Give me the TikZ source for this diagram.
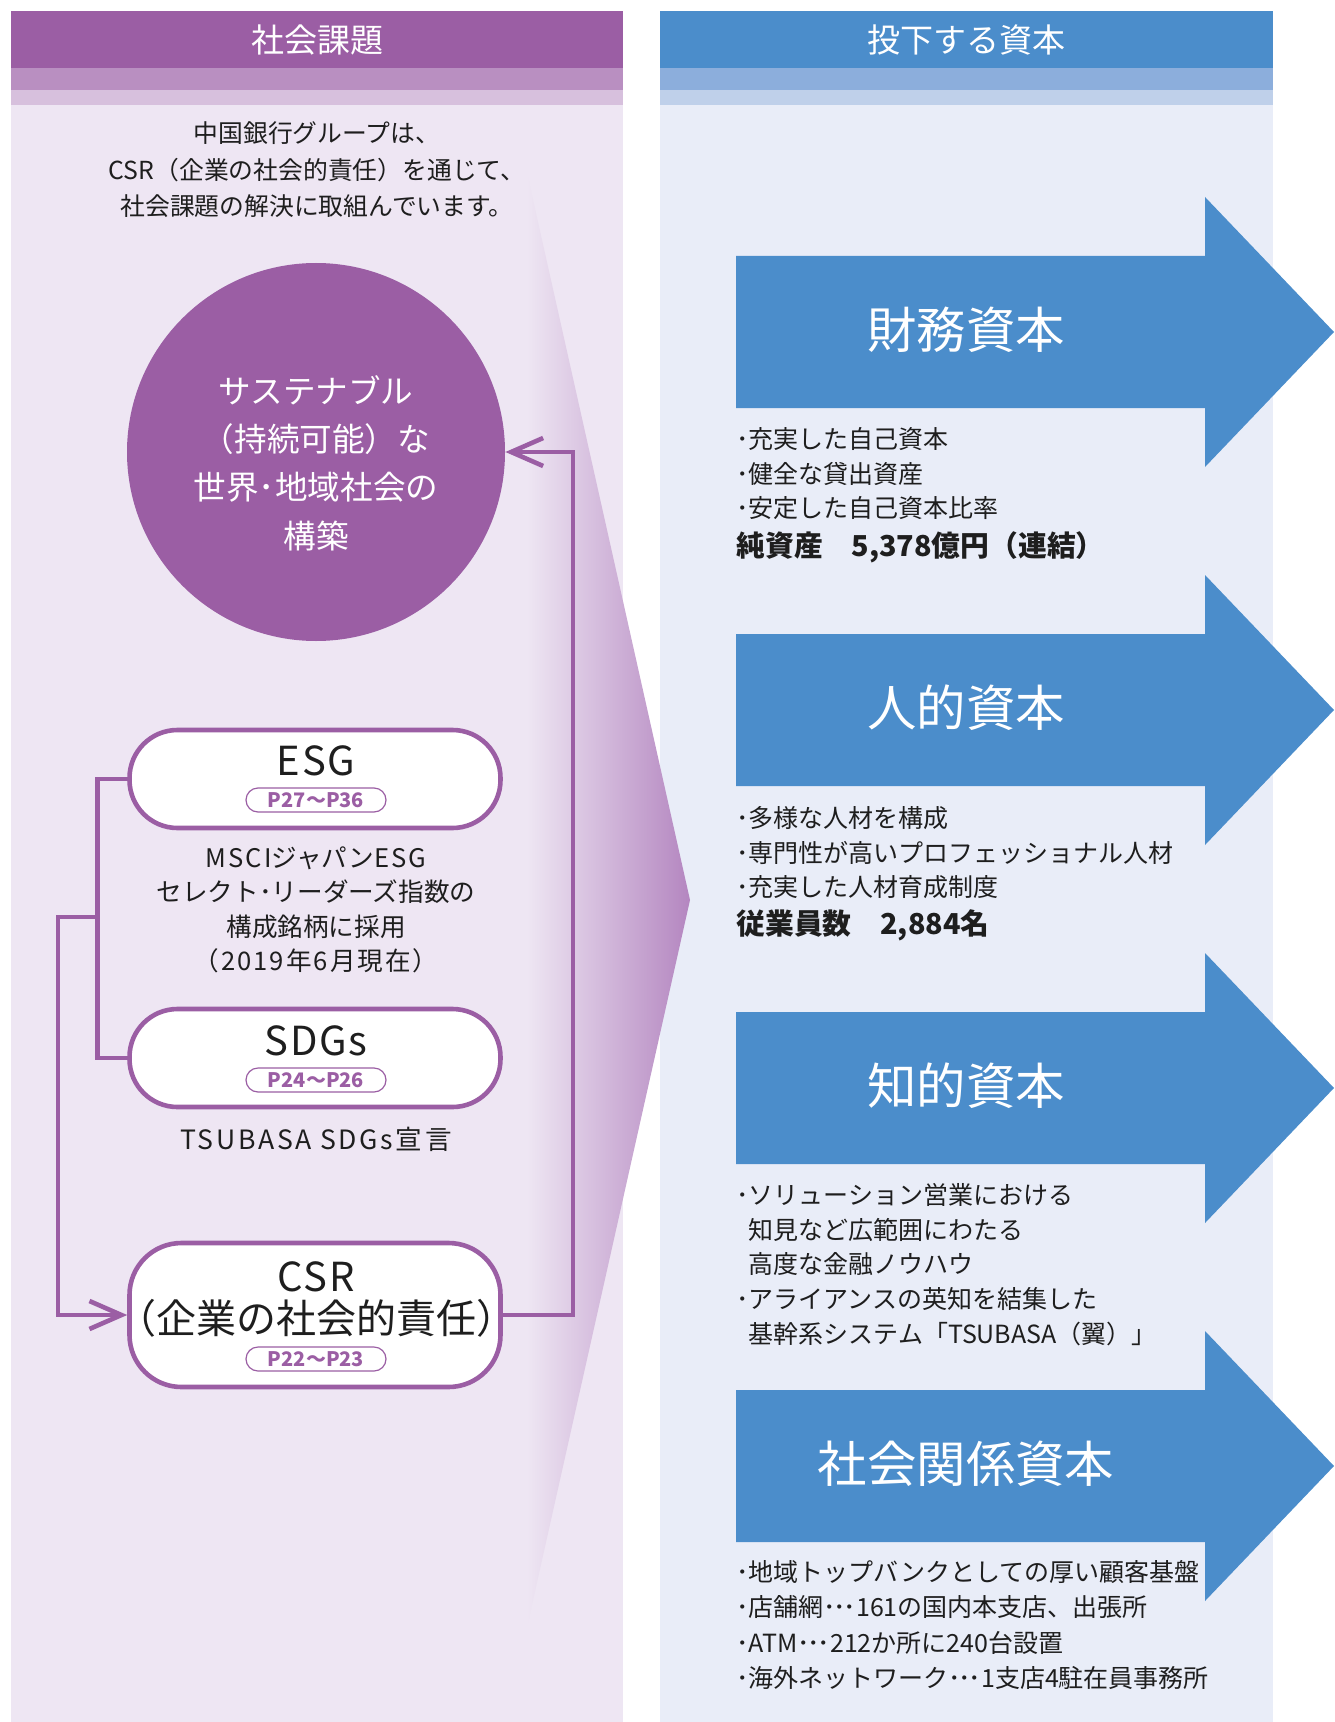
\documentclass[tikz,border=0pt]{standalone}
\usepackage{fontspec}
\setmainfont{Noto Sans CJK JP}
\definecolor{kadaipurple}{RGB}{155,94,164}
\definecolor{kadaiband}{RGB}{185,143,193}
\definecolor{kadaiband2}{RGB}{215,192,221}
\definecolor{kadaibg}{RGB}{238,230,243}
\definecolor{funnelend}{RGB}{180,134,192}
\definecolor{shihonblue}{RGB}{75,141,203}
\definecolor{shihonband}{RGB}{140,174,220}
\definecolor{shihonband2}{RGB}{191,208,234}
\definecolor{shihonbg}{RGB}{233,237,248}
\definecolor{inktext}{RGB}{30,30,30}
\newcommand{\fsz}[2]{\fontsize{#1}{#2}\selectfont}
\newcommand{\wide}[2]{{\addfontfeature{LetterSpace=#1}#2}}
\newcommand{\hkl}{{\addfontfeature{RawFeature=+halt}（}}
\newcommand{\hkr}{{\addfontfeature{RawFeature=+halt}）}}
\newcommand{\tdots}{･\kern-1.3pt･\kern-1.3pt･}
\usetikzlibrary{arrows.meta,positioning}
\tikzset{
	headtext/.style={
		text=white,
		inner sep=0pt,
		font=\fsz{16.5}{18},
	},
	lead/.style={
		align=center,
		text=inktext,
		inner sep=0pt,
		font=\fsz{12.4}{18.3},
	},
	goal/.style={
		circle,
		fill=kadaipurple,
		minimum size=189pt,
		inner sep=0pt,
	},
	goaltext/.style={
		align=center,
		text=white,
		inner sep=0pt,
		font=\fsz{16.3}{24.2},
	},
	pill/.style={
		rectangle,
		rounded corners=24pt,
		draw=kadaipurple,
		line width=2.3pt,
		fill=white,
		minimum width=185.5pt,
		minimum height=49pt,
	},
	pillname/.style={
		text=inktext,
		inner sep=0pt,
		font=\fsz{20}{22}\addfontfeature{LetterSpace=4},
	},
	pagetag/.style={
		rectangle,
		rounded corners=6pt,
		draw=kadaipurple,
		line width=0.6pt,
		fill=white,
		minimum width=70pt,
		minimum height=12pt,
		inner sep=0pt,
		text=kadaipurple,
		font=\bfseries\fsz{10}{12},
	},
	note/.style={
		align=center,
		text=inktext,
		inner sep=0pt,
		font=\fsz{12.8}{17.2},
	},
	conn/.style={
		draw=kadaipurple,
		line width=2.3pt,
	},
	link/.style={
		conn,
		-{Straight Barb[length=16pt,width=14pt]},
	},
	captitle/.style={
		text=white,
		inner sep=0pt,
		font=\fsz{24.7}{27},
	},
	item/.style={
		anchor=base west,
		text=inktext,
		inner sep=0pt,
		font=\fsz{12.5}{17},
	},
	itembold/.style={
		item,
		font=\bfseries\fsz{14.4}{17},
	},
}
\begin{document}
\begin{tikzpicture}[x=0.5pt,y=-0.5pt]
	\useasboundingbox (0,0) rectangle (1334,1722);
	% columns
	\fill[kadaibg] (11,105) rectangle (623,1722);
	\fill[kadaipurple] (11,11) rectangle (623,68);
	\fill[kadaiband] (11,68) rectangle (623,90);
	\fill[kadaiband2] (11,90) rectangle (623,105);
	\fill[shihonbg] (660,105) rectangle (1273,1722);
	\fill[shihonblue] (660,11) rectangle (1273,68);
	\fill[shihonband] (660,68) rectangle (1273,90);
	\fill[shihonband2] (660,90) rectangle (1273,105);
	\node[headtext] (kadai) at (317,40) {社会課題};
	\node[headtext] (toka) at (966,40) {投下する資本};

	% funnel
	\shade[left color=kadaibg, right color=funnelend] (527,173) -- (690,900) -- (527,1627) -- cycle;

	\node[lead] (intro) at (317,170) {中国銀行グループは、\\CSR（企業の社会的責任）を通じて、\\社会課題の解決に取組んでいます。};
	\node[goal] (circ) at (316,452) {};
	\node[goaltext] (circtext) at (316,463) {サステナブル\\（持続可能）な\\世界･地域社会の\\構築};

	\node[pill] (esg) at (315,779) {};
	\node[pillname] (esgname) at (316,761) {ESG};
	\node[pagetag] (esgpage) at (316,800) {P27～P36};
	\node[note] (msci) at (316,910) {\wide{8}{MSCI}ジャパン\wide{8}{ESG}\\セレクト･リーダーズ指数の\\構成銘柄に採用\\\wide{8}{（2019年6月現在）}};

	\node[pill] (sdgs) at (315,1058) {};
	\node[pillname] (sdgsname) at (316,1041) {SDGs};
	\node[pagetag] (sdgspage) at (316,1080) {P24～P26};
	\node[note,font=\fsz{13.3}{17}\addfontfeature{LetterSpace=10}] (tsubasa) at (316,1139) {TSUBASA SDGs宣言};

	\node[pill,minimum height=72pt,rounded corners=26pt] (csr) at (315,1315) {};
	\node[pillname] (csrname) at (316,1277) {CSR};
	\node[pillname,font=\fsz{20}{22}] (csrjp) at (316,1318) {\hkl 企業の社会的責任\hkr};
	\node[pagetag] (csrpage) at (316,1359) {P22～P23};

	\draw[conn] (esg.west) -- ++(-30,0) |- (sdgs.west);
	\coordinate (fork) at (97,917);
	\draw[link] (fork) -- ++(-39,0) |- (csr.west);
	\draw[link] (csr.east) -- ++(70,0) |- (circ.east);

	% capitals
	\foreach \cy/\ttl [count=\i] in {332/財務資本, 710/人的資本, 1088/知的資本, 1466/社会関係資本} {
		\fill[shihonblue] (736,\cy-76) -- (1205,\cy-76) -- (1205,\cy-135) -- (1334,\cy)
			-- (1205,\cy+135) -- (1205,\cy+76) -- (736,\cy+76) -- cycle;
		\node[captitle] (cap\i) at (966,\cy-2) {\ttl};
	}

	\foreach \txt [count=\i] in {･充実した自己資本, ･健全な貸出資産, ･安定した自己資本比率}
		\node[item] (fin\i) at (736,{448.5+34.6*(\i-1)}) {\txt};
	\node[itembold] (finsum) at (736,556) {純資産　5,378億円（連結）};

	\foreach \txt [count=\i] in {･多様な人材を構成, ･専門性が高いプロフェッショナル人材, ･充実した人材育成制度}
		\node[item] (hum\i) at (736,{827.5+34.6*(\i-1)}) {\txt};
	\node[itembold] (humsum) at (736,934) {従業員数　2,884名};

	\foreach \txt [count=\i] in {･ソリューション営業における, \phantom{･}知見など広範囲にわたる, \phantom{･}高度な金融ノウハウ, ･アライアンスの英知を結集した, \phantom{･}基幹系システム「TSUBASA（翼）」}
		\node[item] (int\i) at (736,{1204.5+34.7*(\i-1)}) {\txt};

	\foreach \txt [count=\i] in {･地域トップバンクとしての厚い顧客基盤, ･店舗網\tdots 161の国内本支店、出張所, ･ATM\tdots 212か所に240台設置, ･海外ネットワーク\tdots 1支店4駐在員事務所}
		\node[item] (soc\i) at (736,{1581.5+35.3*(\i-1)}) {\txt};
\end{tikzpicture}
\end{document}
